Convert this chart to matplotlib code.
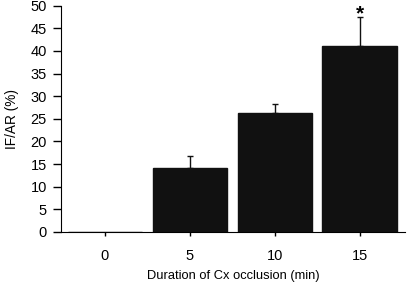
import numpy as np
import matplotlib.pyplot as plt

plt.rcParams['font.family'] = ['Liberation Sans', 'DejaVu Sans']

# data
durations = ['0', '5', '10', '15']
ifar = [0, 14.2, 26.2, 41.1]
err_up = [0, 2.5, 2.0, 6.3]
signif = ['', '', '', '*']

fig = plt.figure(figsize=(4.11, 2.86), dpi=100)
ax = fig.add_axes([0.148, 0.189, 0.837, 0.791])

x = np.arange(len(durations))
ax.bar(x, ifar, width=0.88, color='#111111', edgecolor='#111111')
ax.errorbar(x[1:], ifar[1:], yerr=[np.zeros(3), err_up[1:]], fmt='none',
            ecolor='#111111', elinewidth=1, capsize=2.5, capthick=1)
for xi, v, e, s in zip(x, ifar, err_up, signif):
    if s:
        ax.text(xi, v + e - 1.4, s, ha='center', va='bottom', fontsize=15, fontweight='bold')

ax.set_xlim(-0.52, 3.53)
ax.set_ylim(0, 50)
ax.set_yticks(np.arange(0, 51, 5))
ax.set_xticks(x)
ax.set_xticklabels(durations)
ax.spines['top'].set_visible(False)
ax.spines['right'].set_visible(False)
ax.tick_params(axis='y', length=6, width=1, labelsize=10.5, pad=4)
ax.tick_params(axis='x', length=3, width=1, labelsize=10.5, pad=9)
ax.set_xlabel('Duration of Cx occlusion (min)', fontsize=9.3, labelpad=5)
ax.set_ylabel('IF/AR (%)', fontsize=9.8, labelpad=8)

fig.savefig('out.png', dpi=100)
